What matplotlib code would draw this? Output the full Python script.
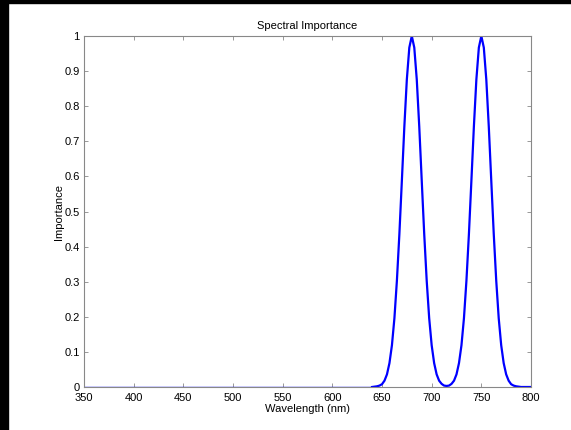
import numpy as np
import matplotlib
matplotlib.use("Agg")
import matplotlib.pyplot as plt
from matplotlib.patches import Rectangle
from matplotlib.ticker import FormatStrFormatter

plt.rcParams['font.family'] = ['Liberation Sans', 'DejaVu Sans']

# flat part of the spectrum (no importance)
wl_flat = [350, 400, 450, 500, 550, 600, 640]
imp_flat = [0, 0, 0, 0, 0, 0, 0]

# the two peaks, read every 2.5 nm from 640 to 800 nm
wl_peaks = np.arange(640, 800.1, 2.5)
imp_peaks = [0.000, 0.001, 0.002, 0.004, 0.008, 0.018, 0.036, 0.068,
             0.119, 0.196, 0.303, 0.436, 0.588, 0.742, 0.876, 0.967,
             1.000, 0.967, 0.876, 0.742, 0.588, 0.436, 0.303, 0.196,
             0.119, 0.068, 0.036, 0.018, 0.009, 0.004, 0.003, 0.004,
             0.009, 0.018, 0.036, 0.068, 0.119, 0.196, 0.303, 0.436,
             0.588, 0.742, 0.876, 0.967, 1.000, 0.967, 0.876, 0.742,
             0.588, 0.436, 0.303, 0.196, 0.119, 0.068, 0.036, 0.018,
             0.008, 0.004, 0.002, 0.001, 0.000, 0.000, 0.000, 0.000,
             0.000]

fig = plt.figure(figsize=(5.71, 4.30), dpi=100)
ax = fig.add_axes([84/571, 43/430, 447/571, 351/430])

ax.plot(wl_flat, imp_flat, color='#0000ff', lw=1.0)
ax.plot(wl_peaks, imp_peaks, color='#0000ff', lw=1.6)

ax.set_xlim(350, 800)
ax.set_ylim(0, 1)
ax.set_xticks(np.arange(350, 801, 50))
ax.set_yticks(np.arange(0, 1.01, 0.1))
ax.yaxis.set_major_formatter(FormatStrFormatter('%g'))

ax.set_title('Spectral Importance', fontsize=8, pad=5)
ax.set_xlabel('Wavelength (nm)', fontsize=8, labelpad=1)
ax.set_ylabel('Importance', fontsize=8, labelpad=0)

for s in ax.spines.values():
    s.set_color('#888888')
    s.set_linewidth(0.8)
ax.tick_params(direction='in', length=3, width=0.6, color='#888888',
               labelsize=8, top=True, right=True, pad=3)
ax.tick_params(axis='x', pad=4)

# black frame edges
fig.patches.append(Rectangle((0, 0), 8/571, 1, transform=fig.transFigure,
                             color='black', zorder=-1))
fig.patches.append(Rectangle((0, 1 - 3/430), 1, 3/430, transform=fig.transFigure,
                             color='black', zorder=-1))

fig.savefig('out.png', dpi=100)
